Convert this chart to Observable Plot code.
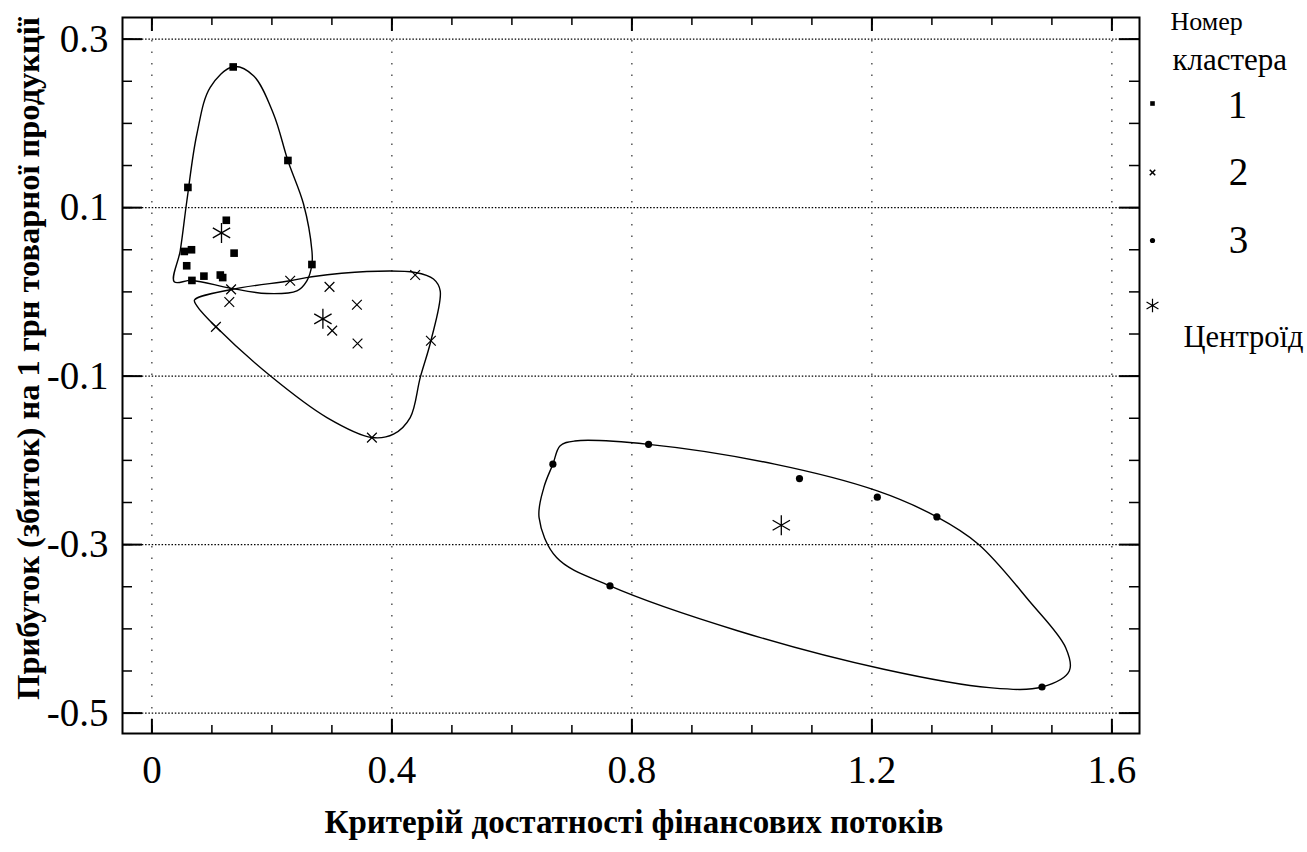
<!DOCTYPE html>
<html>
<head>
<meta charset="utf-8">
<script src="https://cdn.jsdelivr.net/npm/d3@7"></script>
<script src="https://cdn.jsdelivr.net/npm/@observablehq/plot@0.6"></script>
<style>
  html, body { margin: 0; padding: 0; background: #fff; }
  #chart { width: 1307px; height: 852px; }
</style>
</head>
<body>
<div id="chart"></div>
<script>
// ---- data ----
const xTicks = [0, 0.4, 0.8, 1.2, 1.6];
const yTicks = [0.3, 0.1, -0.1, -0.3, -0.5];
const xTitle = "Критерій достатності фінансових потоків";
const yTitle = "Прибуток (збиток) на 1 грн товарної продукції";
const legendTitle = ["Номер", "кластера"];
const clusterNames = ["1", "2", "3"];
const centroidName = "Центроїд";

const cluster1 = [
  [0.1355, 0.267], [0.2267, 0.156], [0.060, 0.124], [0.124, 0.085],
  [0.137, 0.046], [0.054, 0.048], [0.066, 0.050], [0.058, 0.031],
  [0.2667, 0.0325], [0.0667, 0.0136], [0.0867, 0.0187], [0.114, 0.020],
  [0.118, 0.017]
];
const cluster2 = [
  [0.4388, 0.020], [0.2305, 0.0132], [0.132, 0.003], [0.129, -0.012],
  [0.296, 0.006], [0.3417, -0.0153], [0.3005, -0.046], [0.3427, -0.0613],
  [0.465, -0.058], [0.1067, -0.0415], [0.3667, -0.173]
];
const cluster3 = [
  [0.8278, -0.181], [0.6683, -0.2045], [1.0793, -0.2216], [1.209, -0.2437],
  [1.3083, -0.2671], [0.7635, -0.349], [1.4835, -0.469]
];
const centroids = [[0.116, 0.070], [0.285, -0.032], [1.049, -0.277]];

// cluster boundary contours
const hull1 = [
  [0.0372, 0.012], [0.0472, 0.0488], [0.0583, 0.1082], [0.075, 0.1874],
  [0.0972, 0.2428], [0.1355, 0.2673], [0.1693, 0.2566], [0.2027, 0.2112],
  [0.2267, 0.1557], [0.2527, 0.1043], [0.2667, 0.0488], [0.2667, 0.0325],
  [0.2583, 0.0132], [0.2417, 0.0013], [0.1917, -0.0019], [0.1305, 0.0045],
  [0.0667, 0.0136]
];
const hull2 = [
  [0.071, -0.0097], [0.1322, 0.0029], [0.2305, 0.0132], [0.2667, 0.0179],
  [0.3583, 0.0242], [0.4388, 0.023], [0.4693, 0.0152], [0.4805, 0.0013],
  [0.465, -0.058], [0.4472, -0.1017], [0.4305, -0.1492], [0.4027, -0.1689],
  [0.3667, -0.1729], [0.2917, -0.1492], [0.1972, -0.0996], [0.1067, -0.0415],
  [0.075, -0.0165]
];
const hull3 = [
  [0.7047, -0.177], [0.8278, -0.181], [1.038, -0.2045], [1.2078, -0.236],
  [1.3083, -0.2671], [1.3775, -0.2995], [1.4623, -0.3669], [1.523, -0.4223],
  [1.529, -0.45], [1.4835, -0.469], [1.3957, -0.4698], [1.2198, -0.448],
  [0.9775, -0.4025], [0.7635, -0.349], [0.6745, -0.3154], [0.6453, -0.268],
  [0.6532, -0.2323], [0.6683, -0.2045], [0.6805, -0.1827]
];

// ---- layout ----
const W = 1307, H = 852;
const mL = 122, mR = 168, mT = 17, mB = 119;
const fw = W - mL - mR, fh = H - mT - mB;
const xMinor = d3.range(0, 17).map(i => i / 10);
const yMinor = d3.range(-10, 7).map(i => i / 20);

const X = d => d[0], Y = d => d[1];
const serif = "'Liberation Serif', 'DejaVu Serif', serif";

const chart = Plot.plot({
  width: W, height: H,
  marginLeft: mL, marginRight: mR, marginTop: mT, marginBottom: mB,
  x: {domain: [-0.049, 1.646]},
  y: {domain: [-0.5242, 0.3257]},
  style: {fontFamily: serif, color: "black", background: "white", overflow: "visible"},
  marks: [
    // grid
    Plot.gridY({ticks: yTicks, stroke: "black", strokeOpacity: 1, strokeWidth: 1.3, strokeDasharray: "1.5,1.8"}),
    Plot.gridX({ticks: xTicks, stroke: "black", strokeOpacity: 1, strokeWidth: 1, strokeDasharray: "1.5,10"}),
    // inward ticks: left / right
    Plot.tickY(yMinor, {y: d => d, insetRight: fw - 10, strokeWidth: 1.5}),
    Plot.tickY(yMinor, {y: d => d, insetLeft: fw - 10, strokeWidth: 1.5}),
    Plot.tickY(yTicks, {y: d => d, insetRight: fw - 20, strokeWidth: 2}),
    Plot.tickY(yTicks, {y: d => d, insetLeft: fw - 20, strokeWidth: 2}),
    // inward ticks: bottom / top
    Plot.tickX(xMinor, {x: d => d, insetTop: fh - 8, strokeWidth: 1.5}),
    Plot.tickX(xMinor, {x: d => d, insetBottom: fh - 8, strokeWidth: 1.5}),
    Plot.tickX(xTicks, {x: d => d, insetTop: fh - 14, strokeWidth: 2}),
    Plot.tickX(xTicks, {x: d => d, insetBottom: fh - 14, strokeWidth: 2}),
    Plot.frame({stroke: "black", strokeWidth: 2}),
    // tick labels
    Plot.axisX({ticks: xTicks, tickSize: 0, tickPadding: 22, tickFormat: d => String(d), fontSize: 39, fontFamily: serif, label: null}),
    Plot.axisY({ticks: yTicks, tickSize: 0, tickPadding: 14, tickFormat: d => String(d), fontSize: 39, fontFamily: serif, label: null}),
    // cluster contours
    Plot.line(hull1, {x: X, y: Y, curve: "catmull-rom-closed", stroke: "black", strokeWidth: 1.4}),
    Plot.line(hull2, {x: X, y: Y, curve: "catmull-rom-closed", stroke: "black", strokeWidth: 1.4}),
    Plot.line(hull3, {x: X, y: Y, curve: "catmull-rom-closed", stroke: "black", strokeWidth: 1.4}),
    // points
    Plot.dot(cluster1, {x: X, y: Y, symbol: "square", r: 4.3, fill: "black", stroke: "none"}),
    Plot.dot(cluster2, {x: X, y: Y, symbol: "times", r: 4.5, stroke: "black", strokeWidth: 1.2}),
    Plot.dot(cluster3, {x: X, y: Y, symbol: "circle", r: 3.6, fill: "black", stroke: "none"}),
    Plot.dot(centroids, {x: X, y: Y, symbol: "asterisk", r: 9.5, stroke: "black", strokeWidth: 1.3}),
    // axis titles
    Plot.text([xTitle], {frameAnchor: "bottom", textAnchor: "middle", dx: 3, dy: 99, fontSize: 33, fontWeight: "bold", fontFamily: serif}),
    Plot.text([yTitle], {frameAnchor: "left", textAnchor: "middle", rotate: -90, dx: -94, dy: -17, fontSize: 32.5, fontWeight: "bold", fontFamily: serif}),
    // legend
    Plot.text([legendTitle[0]], {frameAnchor: "top-right", dx: 31, dy: 4, textAnchor: "start", lineAnchor: "middle", fontSize: 26, fontFamily: serif}),
    Plot.text([legendTitle[1]], {frameAnchor: "top-right", dx: 33, dy: 43, textAnchor: "start", lineAnchor: "middle", fontSize: 31, fontFamily: serif}),
    Plot.text([clusterNames[0]], {frameAnchor: "top-right", dx: 98, dy: 88, textAnchor: "middle", lineAnchor: "middle", fontSize: 39, fontFamily: serif}),
    Plot.text([clusterNames[1]], {frameAnchor: "top-right", dx: 99, dy: 155, textAnchor: "middle", lineAnchor: "middle", fontSize: 39, fontFamily: serif}),
    Plot.text([clusterNames[2]], {frameAnchor: "top-right", dx: 99, dy: 223, textAnchor: "middle", lineAnchor: "middle", fontSize: 39, fontFamily: serif}),
    Plot.text([centroidName], {frameAnchor: "top-right", dx: 44, dy: 320, textAnchor: "start", lineAnchor: "middle", fontSize: 30.5, fontFamily: serif}),
    Plot.dot([0], {frameAnchor: "top-right", dx: 13, dy: 86, symbol: "square", r: 2.6, fill: "black", stroke: "none"}),
    Plot.dot([0], {frameAnchor: "top-right", dx: 13, dy: 155, symbol: "times", r: 2.6, stroke: "black"}),
    Plot.dot([0], {frameAnchor: "top-right", dx: 13, dy: 223, symbol: "circle", r: 2.6, fill: "black", stroke: "none"}),
    Plot.dot([0], {frameAnchor: "top-right", dx: 13, dy: 288, symbol: "asterisk", r: 6.5, stroke: "black", strokeWidth: 1.2})
  ]
});
document.getElementById("chart").appendChild(chart);
</script>
</body>
</html>
